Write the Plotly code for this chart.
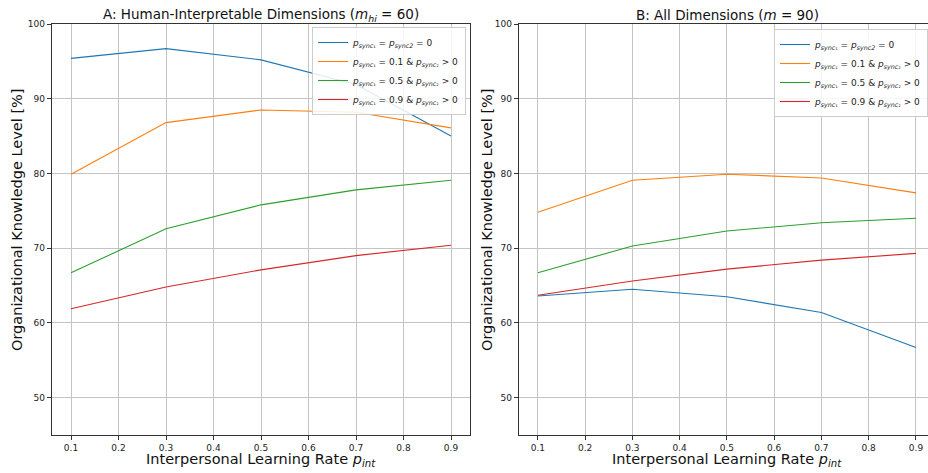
import plotly.graph_objects as go

W, H = 928, 473

x_vals = [0.1, 0.3, 0.5, 0.7, 0.9]

# Panel A: Human-Interpretable Dimensions (m_hi = 60)
a_sync0 = [95.4, 96.7, 95.2, 91.9, 85.0]
a_sync01 = [79.9, 86.8, 88.5, 88.2, 86.1]
a_sync05 = [66.7, 72.6, 75.8, 77.8, 79.1]
a_sync09 = [61.9, 64.8, 67.1, 69.0, 70.4]

# Panel B: All Dimensions (m = 90)
b_sync0 = [63.6, 64.5, 63.5, 61.4, 56.7]
b_sync01 = [74.8, 79.1, 79.9, 79.4, 77.4]
b_sync05 = [66.7, 70.3, 72.3, 73.4, 74.0]
b_sync09 = [63.7, 65.6, 67.2, 68.4, 69.3]

x_ticks = [0.1, 0.2, 0.3, 0.4, 0.5, 0.6, 0.7, 0.8, 0.9]
y_ticks = [50, 60, 70, 80, 90, 100]

labels = [
    "<i>p</i><sub><i>sync</i>₁</sub> = <i>p</i><sub><i>sync2</i></sub> = 0",
    "<i>p</i><sub><i>sync</i>₁</sub> = 0.1 &amp; <i>p</i><sub><i>sync</i>₂</sub> &gt; 0",
    "<i>p</i><sub><i>sync</i>₁</sub> = 0.5 &amp; <i>p</i><sub><i>sync</i>₂</sub> &gt; 0",
    "<i>p</i><sub><i>sync</i>₁</sub> = 0.9 &amp; <i>p</i><sub><i>sync</i>₂</sub> &gt; 0",
]
colors = ["#1f77b4", "#ff7f0e", "#2ca02c", "#d62728"]

fig = go.Figure()
for ys, lab, c in zip([a_sync0, a_sync01, a_sync05, a_sync09], labels, colors):
    fig.add_trace(go.Scatter(x=x_vals, y=ys, mode="lines", name=lab,
                             line=dict(color=c, width=1.1),
                             xaxis="x", yaxis="y", legend="legend"))
for ys, lab, c in zip([b_sync0, b_sync01, b_sync05, b_sync09], labels, colors):
    fig.add_trace(go.Scatter(x=x_vals, y=ys, mode="lines", name=lab,
                             line=dict(color=c, width=1.1),
                             xaxis="x2", yaxis="y2", legend="legend2"))

ydom = [(H - 435) / H, (H - 24) / H]
font_family = "DejaVu Sans, sans-serif"

axis_common = dict(
    showgrid=True, gridcolor="#c4c4c4", gridwidth=1.1,
    showline=True, linecolor="#333333", linewidth=1.3,
    ticks="outside", ticklen=4, tickcolor="#333333",
    tickfont=dict(size=9, color="#222222", family=font_family),
    zeroline=False, automargin=False,
)

leg_font = dict(size=9, family=font_family, color="#222222")

fig.update_layout(
    template="none",
    width=W, height=H, autosize=False,
    margin=dict(l=0, r=0, t=0, b=0, pad=0),
    paper_bgcolor="white", plot_bgcolor="white",
    font=dict(family=font_family),
    xaxis=dict(domain=[52 / W, 470 / W], range=[0.06, 0.94], tickvals=x_ticks,
               ticktext=[f"{v:.1f}" for v in x_ticks], mirror=True, anchor="y", **axis_common),
    yaxis=dict(domain=ydom, range=[45, 100], tickvals=y_ticks, mirror=True, anchor="x", **axis_common),
    xaxis2=dict(domain=[519 / W, 1.0], range=[0.06, 0.9255], tickvals=x_ticks,
                ticktext=[f"{v:.1f}" for v in x_ticks], mirror=True, anchor="y2", **axis_common),
    yaxis2=dict(domain=ydom, range=[45, 100], tickvals=y_ticks, mirror=False, anchor="x2", **axis_common),
    legend=dict(x=466 / W, xanchor="right", y=1 - 27 / H, yanchor="top",
                bgcolor="rgba(255,255,255,0.85)", bordercolor="#cccccc", borderwidth=1,
                font=leg_font, tracegroupgap=0),
    legend2=dict(x=1.0, xanchor="right", y=1 - 29 / H, yanchor="top",
                 bgcolor="rgba(255,255,255,0.85)", bordercolor="#cccccc", borderwidth=1,
                 font=leg_font, tracegroupgap=0),
    showlegend=True,
)

title_font = dict(size=13.5, family=font_family, color="#111111")
label_font = dict(size=14.5, family=font_family, color="#111111")
fig.add_annotation(text="A: Human-Interpretable Dimensions (<i>m</i><sub><i>hi</i></sub> = 60)",
                   x=261 / W, y=1 - 15 / H, xref="paper", yref="paper",
                   showarrow=False, font=title_font, xanchor="center", yanchor="middle")
fig.add_annotation(text="B: All Dimensions (<i>m</i> = 90)",
                   x=727 / W, y=1 - 15 / H, xref="paper", yref="paper",
                   showarrow=False, font=title_font, xanchor="center", yanchor="middle")
for cx in [261, 727]:
    fig.add_annotation(text="Interpersonal Learning Rate <i>p</i><sub><i>int</i></sub>",
                       x=cx / W, y=1 - 460 / H, xref="paper", yref="paper",
                       showarrow=False, font=label_font, xanchor="center", yanchor="middle")
for cx in [17, 487]:
    fig.add_annotation(text="Organizational Knowledge Level [%]",
                       x=cx / W, y=1 - 220 / H, xref="paper", yref="paper", textangle=-90,
                       showarrow=False, font=label_font, xanchor="center", yanchor="middle")

post = ("document.documentElement.style.margin='0';document.documentElement.style.overflow='hidden';"
        "document.body.style.margin='0';document.body.style.padding='0';document.body.style.overflow='hidden';"
        "var gd=document.getElementById('{plot_id}');Plotly.relayout(gd,{width:928,height:473});")

fig.write_html("out.html", post_script=post, config={"displayModeBar": False})
